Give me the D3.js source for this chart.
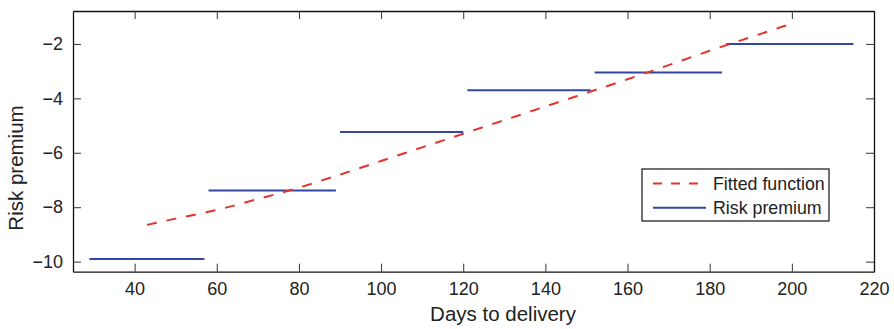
<!DOCTYPE html>
<html>
<head>
<meta charset="utf-8">
<script src="https://cdn.jsdelivr.net/npm/d3@7"></script>
<style>
  body { margin: 0; background: #fff; }
  svg { font-family: "Liberation Sans", Arial, sans-serif; }
</style>
</head>
<body>
<div id="chart"></div>
<script>
// step segments: [start day, end day, risk premium]
var stepStarts = [29, 58, 90, 121, 152, 184];
var stepEnds = [57, 89, 120, 151, 183, 215];
var stepValues = [-9.9, -7.39, -5.24, -3.7, -3.05, -2.0];

// fitted function
var fitDays = [43, 50, 60, 70, 80, 90, 100, 110, 120, 130, 140, 150, 160, 170, 180, 190, 199];
var fitValues = [-8.65, -8.42, -8.1, -7.7, -7.28, -6.8, -6.3, -5.8, -5.3, -4.8, -4.3, -3.8, -3.3, -2.78, -2.25, -1.75, -1.3];

var xTicks = [40, 60, 80, 100, 120, 140, 160, 180, 200, 220];
var yTicks = [-10, -8, -6, -4, -2];
var legendLabels = ["Fitted function", "Risk premium"];

var width = 894, height = 329;
var plot = { left: 73, right: 874, top: 11, bottom: 271.7 };
var red = "#e3342c", blue = "#3447a0";
var dash = "10,10";

var svg = d3.select("#chart").append("svg")
  .attr("width", width)
  .attr("height", height);

var x = d3.scaleLinear().domain([25, 220]).range([plot.left, plot.right]);
var y = d3.scaleLinear().domain([-10.37, -0.79]).range([plot.bottom, plot.top]);

// axes (ticks point inward, mirrored on top/right)
function styleAxis(g) {
  g.selectAll("path").attr("stroke", "#111").attr("stroke-width", 1.3);
  g.selectAll("line").attr("stroke", "#333").attr("stroke-width", 1);
  g.selectAll("text").attr("fill", "#222").attr("font-size", 18)
    .attr("font-family", "Liberation Sans, Arial, sans-serif");
}

svg.append("g")
  .attr("transform", `translate(0,${plot.bottom})`)
  .call(d3.axisBottom(x).tickValues(xTicks).tickSize(-8).tickSizeOuter(0).tickPadding(11))
  .call(styleAxis);

svg.append("g")
  .attr("transform", `translate(0,${plot.top})`)
  .call(d3.axisTop(x).tickValues(xTicks).tickSize(-8).tickSizeOuter(0).tickFormat(""))
  .call(styleAxis);

svg.append("g")
  .attr("transform", `translate(${plot.left},0)`)
  .call(d3.axisLeft(y).tickValues(yTicks).tickSize(-8).tickSizeOuter(0).tickPadding(10))
  .call(styleAxis);

svg.append("g")
  .attr("transform", `translate(${plot.right},0)`)
  .call(d3.axisRight(y).tickValues(yTicks).tickSize(-8).tickSizeOuter(0).tickFormat(""))
  .call(styleAxis);

// risk premium steps
svg.append("g").selectAll("line")
  .data(stepValues)
  .join("line")
  .attr("x1", (d, i) => x(stepStarts[i]))
  .attr("x2", (d, i) => x(stepEnds[i]))
  .attr("y1", (d) => y(d))
  .attr("y2", (d) => y(d))
  .attr("stroke", blue)
  .attr("stroke-width", 2);

// fitted function
var fitLine = d3.line()
  .x((d, i) => x(fitDays[i]))
  .y((d) => y(d))
  .curve(d3.curveMonotoneX);

svg.append("path")
  .datum(fitValues)
  .attr("d", fitLine)
  .attr("fill", "none")
  .attr("stroke", red)
  .attr("stroke-width", 2)
  .attr("stroke-dasharray", dash);

// axis titles
svg.append("text")
  .attr("x", 503)
  .attr("y", 321)
  .attr("text-anchor", "middle")
  .attr("font-size", 20.5)
  .attr("fill", "#222")
  .text("Days to delivery");

svg.append("text")
  .attr("transform", "translate(23,168) rotate(-90)")
  .attr("text-anchor", "middle")
  .attr("font-size", 20.5)
  .attr("fill", "#222")
  .text("Risk premium");

// legend
var legend = svg.append("g");
legend.append("rect")
  .attr("x", 642).attr("y", 169)
  .attr("width", 187).attr("height", 52)
  .attr("fill", "#fff")
  .attr("stroke", "#111")
  .attr("stroke-width", 1.2);

var rows = legend.selectAll("g.row")
  .data(legendLabels)
  .join("g")
  .attr("class", "row")
  .attr("transform", (d, i) => `translate(0,${183.5 + i * 24.3})`);

rows.append("line")
  .attr("x1", 653).attr("x2", 706)
  .attr("stroke", (d, i) => (i === 0 ? red : blue))
  .attr("stroke-width", 2)
  .attr("stroke-dasharray", (d, i) => (i === 0 ? "9,9" : null));

rows.append("text")
  .attr("x", 713)
  .attr("dy", "0.35em")
  .attr("font-size", 17.8)
  .attr("fill", "#222")
  .text((d) => d);
</script>
</body>
</html>
